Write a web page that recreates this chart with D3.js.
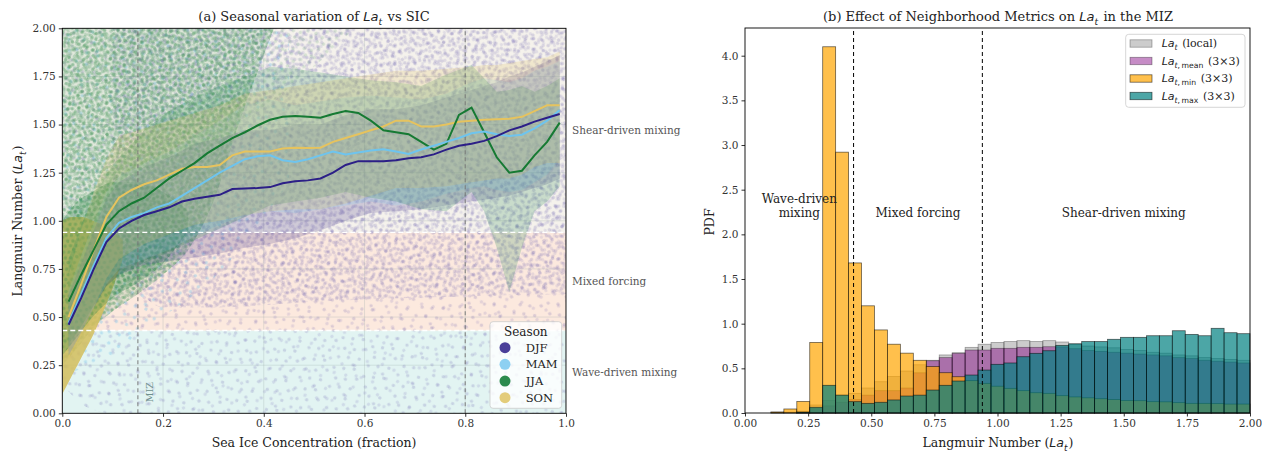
<!DOCTYPE html>
<html>
<head>
<meta charset="utf-8">
<script src="https://cdn.jsdelivr.net/npm/d3@7"></script>
<style>
body { margin: 0; background: #fff; }
svg text { font-family: "DejaVu Serif", serif; fill: #222; }
.math { font-family: "DejaVu Sans", sans-serif; font-style: italic; }
.mrm { font-family: "DejaVu Sans", sans-serif; font-style: normal; }
</style>
</head>
<body>
<svg id="chart" width="1262" height="453"></svg>
<script>
// ---------------- panel (a) data ----------------
const seasons = ['DJF', 'MAM', 'JJA', 'SON']
const sicCenters = d3.range(40).map(i => 0.0125 + 0.025 * i)

const djfMean = [0.46,0.60,0.75,0.89,0.96,1.00,1.03,1.05,1.07,1.10, 1.115,1.125,1.135,1.165,1.168,1.17,1.175,1.195,1.205,1.21,
                 1.22,1.25,1.29,1.31,1.31,1.31,1.315,1.325,1.33,1.345, 1.37,1.39,1.40,1.415,1.44,1.47,1.49,1.515,1.535,1.555]
const mamMean = [0.47,0.62,0.77,0.91,0.99,1.02,1.04,1.07,1.09,1.13, 1.17,1.21,1.25,1.285,1.32,1.335,1.34,1.315,1.305,1.32,
                 1.34,1.36,1.345,1.355,1.365,1.372,1.36,1.347,1.37,1.39, 1.41,1.43,1.455,1.464,1.45,1.44,1.447,1.48,1.52,1.575]
const jjaMean = [0.58,0.72,0.85,0.98,1.05,1.09,1.12,1.17,1.22,1.26, 1.30,1.35,1.39,1.43,1.46,1.495,1.525,1.54,1.545,1.54,
                 1.535,1.555,1.57,1.56,1.52,1.47,1.46,1.45,1.41,1.37, 1.40,1.55,1.588,1.46,1.33,1.25,1.26,1.34,1.41,1.51]
const sonMean = [0.50,0.67,0.85,1.02,1.12,1.16,1.19,1.21,1.24,1.27, 1.28,1.28,1.29,1.34,1.36,1.36,1.36,1.375,1.38,1.378,
                 1.38,1.41,1.43,1.45,1.47,1.49,1.52,1.52,1.49,1.49, 1.50,1.515,1.52,1.525,1.527,1.53,1.54,1.57,1.60,1.60]

// spread bands (lower / upper), read on a coarser SIC grid
const bandSIC = [0.0125,0.0375,0.0625,0.0875,0.1125,0.1625,0.2125,0.2625,0.3125,0.3625,0.4125,0.4625,0.5125,
                 0.5625,0.6125,0.6625,0.7125,0.7625,0.8125,0.8375,0.8625,0.8875,0.9125,0.9375,0.9625,0.9875]
const djfLo = [0.30,0.42,0.55,0.66,0.72,0.77,0.79,0.81,0.83,0.86,0.88,0.91,0.95,1.00,1.04,1.05,1.06,1.08,1.10,1.11,1.12,1.13,1.15,1.17,1.19,1.22]
const djfHi = [0.62,0.78,0.95,1.12,1.20,1.28,1.33,1.40,1.43,1.47,1.47,1.50,1.50,1.55,1.58,1.58,1.60,1.64,1.68,1.70,1.72,1.75,1.77,1.80,1.83,1.86]
const mamLo = [0.30,0.42,0.55,0.67,0.75,0.80,0.85,0.92,0.98,1.03,1.05,1.04,1.06,1.08,1.10,1.08,1.10,1.14,1.17,1.18,1.16,1.15,1.16,1.20,1.24,1.32]
const mamHi = [0.64,0.82,0.99,1.15,1.23,1.30,1.36,1.44,1.52,1.60,1.63,1.60,1.62,1.64,1.65,1.64,1.63,1.66,1.72,1.74,1.73,1.72,1.74,1.78,1.80,1.83]
const jjaLo = [0.36,0.45,0.56,0.66,0.72,0.78,0.84,0.90,0.96,1.02,1.08,1.10,1.12,1.15,1.12,1.10,1.06,1.05,1.15,1.05,0.86,0.63,0.86,1.05,1.10,1.18]
const jjaHi = [0.80,0.98,1.12,1.24,1.33,1.47,1.57,1.64,1.70,1.75,1.80,1.79,1.77,1.75,1.73,1.72,1.70,1.76,1.81,1.74,1.67,1.68,1.70,1.67,1.70,1.74]
const sonLo = [0.28,0.40,0.55,0.70,0.80,0.88,0.93,0.98,1.00,1.03,1.05,1.06,1.06,1.09,1.13,1.17,1.17,1.18,1.20,1.21,1.22,1.22,1.24,1.28,1.30,1.30]
const sonHi = [0.72,0.95,1.15,1.32,1.44,1.48,1.52,1.56,1.60,1.66,1.68,1.70,1.72,1.74,1.76,1.78,1.78,1.79,1.80,1.81,1.81,1.82,1.83,1.84,1.85,1.88]

// where the scattered samples crowd together (envelopes)
const djfSpreadSIC = [0.0, 0.05, 0.1, 1.0]
const djfSpreadLo  = [0.15, 0.03, 0.0, 0.0]
const djfCrowdSIC  = [0.1, 0.15, 0.2, 0.3, 0.5, 0.7, 1.0]
const djfCrowdLo   = [0.9, 0.65, 0.55, 0.55, 0.58, 0.6, 0.62]
const mamSpreadSIC = [0.0, 0.1, 0.2, 0.3, 0.45]
const mamSpreadLo  = [0.2, 0.3, 0.5, 0.7, 1.2]
const jjaSpreadSIC = [0, 0.03, 0.06, 0.1, 0.15, 0.2, 0.25, 0.3, 0.35, 0.42]
const jjaSpreadLo  = [0.25, 0.34, 0.44, 0.53, 0.62, 0.72, 0.85, 1.1, 1.5, 2.0]
const jjaFadeSIC   = [0, 0.2, 0.35, 0.5, 0.58]
const jjaFadeLo    = [1.2, 1.3, 1.5, 1.8, 2.0]
const jjaCoreSIC   = [0, 0.03, 0.06, 0.1, 0.15, 0.2, 0.25]
const jjaCoreLo    = [0.3, 0.4, 0.5, 0.6, 0.68, 0.78, 0.95]
const jjaCoreHi    = [1.0, 1.1, 1.15, 1.2, 1.2, 1.15, 1.05]
const sonCoreSIC   = [0, 0.02, 0.04, 0.06, 0.08, 0.1, 0.12]
const sonCoreLo    = [0.10, 0.20, 0.30, 0.40, 0.52, 0.65, 0.80]
const sonCoreHi    = [1.00, 1.02, 1.02, 1.0, 0.98, 0.95, 0.90]

const regimeBounds = [0, 0.43, 0.94, 2.0]
const mizBounds = [0.15, 0.8]
const xTicksA = [0, 0.2, 0.4, 0.6, 0.8, 1.0]
const yTicksA = [0, 0.25, 0.5, 0.75, 1.0, 1.25, 1.5, 1.75, 2.0]

// ---------------- panel (b) data ----------------
const binCount = 39
const binEdges = d3.range(binCount + 1).map(i => i * 2 / binCount)
const histLocal = [0,0,0.005,0.01,0.02,0.09,0.14,0.20,0.22,0.28, 0.35,0.41,0.47,0.54,0.59,0.65,0.675,0.735,0.77,0.79,
                   0.80,0.81,0.80,0.81,0.795,0.77,0.75,0.74,0.73,0.71, 0.70,0.68,0.67,0.65,0.64,0.62,0.61,0.60,0.59]
const histMean  = [0,0,0,0,0.01,0.05,0.08,0.12,0.15,0.20, 0.25,0.25,0.28,0.45,0.585,0.62,0.668,0.705,0.705,0.724,
                   0.724,0.735,0.735,0.742,0.74,0.72,0.70,0.69,0.68,0.67, 0.66,0.65,0.64,0.62,0.61,0.59,0.58,0.57,0.56]
const histMin   = [0,0,0.012,0.045,0.13,0.79,4.10,2.92,1.68,1.20, 0.93,0.77,0.67,0.59,0.52,0.451,0.406,0.362,0.332,0.30,
                   0.276,0.25,0.227,0.22,0.194,0.18,0.17,0.16,0.15,0.14, 0.138,0.127,0.125,0.116,0.108,0.108,0.105,0.10,0.10]
const histMax   = [0,0,0,0,0.01,0.064,0.31,0.20,0.127,0.108, 0.12,0.146,0.19,0.20,0.257,0.31,0.358,0.425,0.481,0.545,
                   0.56,0.63,0.668,0.697,0.757,0.775,0.80,0.80,0.825,0.847, 0.847,0.865,0.865,0.921,0.88,0.865,0.948,0.899,0.888]
const xTicksB = [0, 0.25, 0.5, 0.75, 1.0, 1.25, 1.5, 1.75, 2.0]
const yTicksB = [0, 0.5, 1.0, 1.5, 2.0, 2.5, 3.0, 3.5, 4.0]

// ---------------- styles ----------------
const lineColors = { DJF: '#2c1f87', MAM: '#6ec4ee', JJA: '#167a33', SON: '#e6c35e' }
const bandColors = { DJF: '#483d8b', MAM: '#87ceeb', JJA: '#2e8b57', SON: '#e0c060' }
const markColors = { DJF: '#4a3f99', MAM: '#8dd0f2', JJA: '#2b8a4d', SON: '#e3cc7a' }
const regimeFill = ['#e2f4f2', '#fce9de', '#f5f2ec']

const svg = d3.select('#chart')
const defs = svg.append('defs')

const xA = d3.scaleLinear().domain([0, 1]).range([62.3, 566])
const yA = d3.scaleLinear().domain([0, 2]).range([413.3, 28.3])
const xB = d3.scaleLinear().domain([0, 2]).range([745, 1250])
const yB = d3.scaleLinear().domain([0, 4.31]).range([413, 28])

defs.append('clipPath').attr('id', 'clipA')
    .append('rect').attr('x', 62.3).attr('y', 28.3).attr('width', 503.7).attr('height', 385)

// speckle texture for the sample clouds (several tile sizes, tilted, so it does not look like a grid)
const dotSpots = [[0.08,0.12],[0.41,0.05],[0.77,0.18],[0.23,0.44],[0.58,0.33],[0.92,0.49],[0.12,0.74],[0.47,0.69],[0.81,0.81],[0.33,0.93]]
const dotPattern = (id, size, r, color, op, tilt) => {
    const p = defs.append('pattern').attr('id', id).attr('patternUnits', 'userSpaceOnUse')
                  .attr('width', size).attr('height', size).attr('patternTransform', `rotate(${tilt})`)
    dotSpots.forEach(([u, v]) =>
        p.append('circle').attr('cx', u * size).attr('cy', v * size).attr('r', r)
         .attr('fill', color).attr('fill-opacity', op))
}
dotPattern('pDjfS', 31, 1.7, '#5a4ea6', 0.2, 17)
dotPattern('pDjfS2', 37, 1.7, '#6a5fb3', 0.17, -38)
dotPattern('pDjfD', 23, 1.8, '#5a4ea6', 0.2, 52)
dotPattern('pDjfD2', 29, 1.7, '#5a4ea6', 0.17, -11)
dotPattern('pDjfD3', 19, 1.7, '#6d62b5', 0.15, 71)
dotPattern('pMam', 33, 1.7, '#7fc6ec', 0.4, 29)
dotPattern('pJja', 17, 1.8, '#2f8a4c', 0.28, 8)
dotPattern('pJja2', 21, 1.8, '#4f9a62', 0.26, -31)
dotPattern('pJja3', 13, 1.7, '#3a8f55', 0.24, 44)

// helper: text with italic La and a subscript (italic t, upright rest)
const mathText = (sel, parts, size) => {
    parts.forEach(p => {
        if (p.la) {
            sel.append('tspan').attr('class', 'math').text('La')
            sel.append('tspan').attr('class', 'math').attr('font-size', size * 0.7).attr('dy', size * 0.3).text(p.la)
            if (p.rm) sel.append('tspan').attr('class', 'mrm').attr('font-size', size * 0.7).text(p.rm)
            sel.append('tspan').attr('dy', -size * 0.3).text('\u200a')
        } else {
            sel.append('tspan').text(p.t)
        }
    })
}

// ================= panel (a) =================
const gA = svg.append('g')
const plotA = gA.append('g').attr('clip-path', 'url(#clipA)')

// regime shading
regimeFill.forEach((c, i) => {
    plotA.append('rect').attr('x', xA(0)).attr('width', xA(1) - xA(0))
         .attr('y', yA(regimeBounds[i + 1])).attr('height', yA(regimeBounds[i]) - yA(regimeBounds[i + 1]))
         .attr('fill', c)
})

// grid
xTicksA.forEach(t => plotA.append('line').attr('x1', xA(t)).attr('x2', xA(t)).attr('y1', yA(0)).attr('y2', yA(2))
                         .attr('stroke', '#9aa8a8').attr('stroke-opacity', 0.35).attr('stroke-width', 0.8))
yTicksA.forEach(t => plotA.append('line').attr('x1', xA(0)).attr('x2', xA(1)).attr('y1', yA(t)).attr('y2', yA(t))
                         .attr('stroke', '#9aa8a8').attr('stroke-opacity', 0.35).attr('stroke-width', 0.8))

// sample clouds
const cloud = (sic, lo, hi) => d3.area().curve(d3.curveMonotoneX)
    .x((d, i) => xA(sic[i])).y0((d, i) => yA(lo[i])).y1((d, i) => yA(hi ? hi[i] : 2.0))(sic)
const paint = (d, fill, op) => plotA.append('path').attr('d', d).attr('fill', fill).attr('fill-opacity', op == null ? 1 : op)
paint(cloud(djfSpreadSIC, djfSpreadLo), 'url(#pDjfS)')
paint(cloud(djfSpreadSIC, djfSpreadLo), 'url(#pDjfS2)')
paint(cloud(mamSpreadSIC, mamSpreadLo), 'url(#pMam)')
paint(cloud(djfCrowdSIC, djfCrowdLo), 'url(#pDjfD)')
paint(cloud(djfCrowdSIC, djfCrowdLo), 'url(#pDjfD2)')
paint(cloud(djfCrowdSIC, djfCrowdLo), 'url(#pDjfD3)')
paint(cloud(jjaFadeSIC, jjaFadeLo), 'url(#pJja2)', 0.7)
paint(cloud(jjaSpreadSIC, jjaSpreadLo), '#3d8f55', 0.1)
paint(cloud(jjaSpreadSIC, jjaSpreadLo), 'url(#pJja)')
paint(cloud(jjaSpreadSIC, jjaSpreadLo), 'url(#pJja2)')
paint(cloud(jjaSpreadSIC, jjaSpreadLo), 'url(#pJja3)')
paint(cloud(sonCoreSIC, sonCoreLo, sonCoreHi), '#d2bd5c', 0.85)
paint(cloud(jjaCoreSIC, jjaCoreLo, jjaCoreHi), '#2f8a4c', 0.28)
paint(cloud(jjaCoreSIC, jjaCoreLo, jjaCoreHi), 'url(#pJja)')

// spread bands
const bandLo = { DJF: djfLo, MAM: mamLo, JJA: jjaLo, SON: sonLo }
const bandHi = { DJF: djfHi, MAM: mamHi, JJA: jjaHi, SON: sonHi }
seasons.forEach(s => {
    const area = d3.area().x((d, i) => xA(bandSIC[i])).y0((d, i) => yA(bandLo[s][i])).y1((d, i) => yA(bandHi[s][i]))
    plotA.append('path').attr('d', area(bandSIC)).attr('fill', bandColors[s]).attr('fill-opacity', 0.22)
})

// regime thresholds and MIZ limits
regimeBounds.slice(1, 3).forEach(v =>
    plotA.append('line').attr('x1', xA(0)).attr('x2', xA(1)).attr('y1', yA(v)).attr('y2', yA(v))
         .attr('stroke', '#fff').attr('stroke-width', 1.4).attr('stroke-dasharray', '5,3'))
mizBounds.forEach(v =>
    plotA.append('line').attr('x1', xA(v)).attr('x2', xA(v)).attr('y1', yA(0)).attr('y2', yA(2))
         .attr('stroke', '#777').attr('stroke-opacity', 0.75).attr('stroke-width', 1.3).attr('stroke-dasharray', '4,3'))

// seasonal mean lines
const means = { DJF: djfMean, MAM: mamMean, JJA: jjaMean, SON: sonMean }
const line = d3.line().x((d, i) => xA(sicCenters[i])).y(d => yA(d))
;['SON', 'JJA', 'MAM', 'DJF'].forEach(s => {
    plotA.append('path').attr('d', line(means[s])).attr('fill', 'none')
         .attr('stroke', lineColors[s]).attr('stroke-width', 2)
})

gA.append('text').attr('transform', `translate(${xA(0.15) + 15},${yA(0.11)}) rotate(-90)`)
  .attr('text-anchor', 'middle').attr('font-size', 9.5).style('fill', '#6f8f8c').text('MIZ')

// axes
gA.append('g').attr('transform', `translate(0,${yA(0)})`)
  .call(d3.axisBottom(xA).tickValues(xTicksA).tickFormat(d3.format('.1f')).tickSize(3.5).tickSizeOuter(0))
gA.append('g').attr('transform', `translate(${xA(0)},0)`)
  .call(d3.axisLeft(yA).tickValues(yTicksA).tickFormat(d3.format('.2f')).tickSize(3.5).tickSizeOuter(0))
gA.append('rect').attr('x', xA(0)).attr('y', yA(2)).attr('width', xA(1) - xA(0)).attr('height', yA(0) - yA(2))
  .attr('fill', 'none').attr('stroke', '#000').attr('stroke-width', 0.9)

// regime names on the right
const regimeNames = ['Wave-driven mixing', 'Mixed forcing', 'Shear-driven mixing']
regimeNames.forEach((n, i) =>
    gA.append('text').attr('x', 572).attr('y', yA((regimeBounds[i] + regimeBounds[i + 1]) / 2)).attr('dy', '0.35em')
      .attr('font-size', 10.5).style('fill', '#555').text(n))

// titles
mathText(gA.append('text').attr('x', 314).attr('y', 21).attr('text-anchor', 'middle').attr('font-size', 13),
         [{ t: '(a) Seasonal variation of ' }, { la: 't' }, { t: ' vs SIC' }], 13)
gA.append('text').attr('x', 314).attr('y', 447).attr('text-anchor', 'middle').attr('font-size', 12.5)
  .text('Sea Ice Concentration (fraction)')
mathText(gA.append('text').attr('transform', 'translate(22,221) rotate(-90)').attr('text-anchor', 'middle').attr('font-size', 12.5),
         [{ t: 'Langmuir Number (' }, { la: 't' }, { t: ')' }], 12.5)

// legend
const legA = gA.append('g')
legA.append('rect').attr('x', 490).attr('y', 321.7).attr('width', 71.7).attr('height', 86.6).attr('rx', 3)
    .attr('fill', '#fff').attr('fill-opacity', 0.8).attr('stroke', '#ccc').attr('stroke-width', 0.8)
legA.append('text').attr('x', 525.8).attr('y', 336).attr('text-anchor', 'middle').attr('font-size', 12).text('Season')
seasons.forEach((s, i) => {
    const yy = 347.7 + 16.67 * i
    legA.append('circle').attr('cx', 505).attr('cy', yy).attr('r', 5.5).attr('fill', markColors[s])
    legA.append('text').attr('x', 525.7).attr('y', yy).attr('dy', '0.35em').attr('font-size', 11.5).text(s)
})

// ================= panel (b) =================
const gB = svg.append('g')
const histSeries = [
    { vals: histLocal, color: '#808080', alpha: 0.4, rm: '', tail: ' (local)' },
    { vals: histMean,  color: '#800080', alpha: 0.45, rm: ',\u2009mean', tail: ' (3\u00d73)' },
    { vals: histMin,   color: '#ffa500', alpha: 0.7, rm: ',\u2009min', tail: ' (3\u00d73)' },
    { vals: histMax,   color: '#008080', alpha: 0.7, rm: ',\u2009max', tail: ' (3\u00d73)' }
]
histSeries.forEach(sr => {
    gB.append('g').selectAll('rect')
      .data(sr.vals.map((v, k) => ({ v, k })).filter(d => d.v > 0))
      .join('rect')
      .attr('x', d => xB(binEdges[d.k]))
      .attr('width', d => xB(binEdges[d.k + 1]) - xB(binEdges[d.k]))
      .attr('y', d => yB(d.v))
      .attr('height', d => yB(0) - yB(d.v))
      .attr('fill', sr.color).attr('fill-opacity', sr.alpha)
      .attr('stroke', '#000').attr('stroke-opacity', sr.alpha * 0.85).attr('stroke-width', 0.8)
})

regimeBounds.slice(1, 3).forEach(v =>
    gB.append('line').attr('x1', xB(v)).attr('x2', xB(v)).attr('y1', yB(0)).attr('y2', yB(4.31))
      .attr('stroke', '#000').attr('stroke-width', 1).attr('stroke-dasharray', '4,3'))

gB.append('g').attr('transform', `translate(0,${yB(0)})`)
  .call(d3.axisBottom(xB).tickValues(xTicksB).tickFormat(d3.format('.2f')).tickSize(3.5).tickSizeOuter(0))
gB.append('g').attr('transform', `translate(${xB(0)},0)`)
  .call(d3.axisLeft(yB).tickValues(yTicksB).tickFormat(d3.format('.1f')).tickSize(3.5).tickSizeOuter(0))
gB.append('rect').attr('x', xB(0)).attr('y', yB(4.31)).attr('width', xB(2) - xB(0)).attr('height', yB(0) - yB(4.31))
  .attr('fill', 'none').attr('stroke', '#000').attr('stroke-width', 0.9)

// regime names
const lblY = yB(2.19)
gB.append('text').attr('x', xB(0.215)).attr('y', lblY - 14).attr('text-anchor', 'middle').attr('font-size', 12).text('Wave-driven')
gB.append('text').attr('x', xB(0.215)).attr('y', lblY).attr('text-anchor', 'middle').attr('font-size', 12).text('mixing')
gB.append('text').attr('x', xB(0.685)).attr('y', lblY).attr('text-anchor', 'middle').attr('font-size', 12).text('Mixed forcing')
gB.append('text').attr('x', xB(1.5)).attr('y', lblY).attr('text-anchor', 'middle').attr('font-size', 12).text('Shear-driven mixing')

mathText(gB.append('text').attr('x', 998).attr('y', 21).attr('text-anchor', 'middle').attr('font-size', 13),
         [{ t: '(b) Effect of Neighborhood Metrics on ' }, { la: 't' }, { t: ' in the MIZ' }], 13)
mathText(gB.append('text').attr('x', 998).attr('y', 447).attr('text-anchor', 'middle').attr('font-size', 12.5),
         [{ t: 'Langmuir Number (' }, { la: 't' }, { t: ')' }], 12.5)
gB.append('text').attr('transform', 'translate(714,222) rotate(-90)').attr('text-anchor', 'middle').attr('font-size', 12.5).text('PDF')

// legend
const legB = gB.append('g')
legB.append('rect').attr('x', 1125.7).attr('y', 34.3).attr('width', 119.3).attr('height', 73).attr('rx', 3)
    .attr('fill', '#fff').attr('fill-opacity', 0.8).attr('stroke', '#ccc').attr('stroke-width', 0.8)
histSeries.forEach((sr, i) => {
    const yy = 43.5 + 17.5 * i
    legB.append('rect').attr('x', 1130).attr('y', yy - 3.7).attr('width', 22).attr('height', 7.4)
        .attr('fill', sr.color).attr('fill-opacity', sr.alpha)
        .attr('stroke', '#000').attr('stroke-opacity', sr.alpha * 0.85).attr('stroke-width', 0.8)
    const tx = legB.append('text').attr('x', 1161.7).attr('y', yy + 3.5).attr('font-size', 11)
    mathText(tx, [{ la: 't', rm: sr.rm }, { t: sr.tail }], 11)
})

// axis styling
svg.selectAll('.tick text').attr('font-size', 10.5).style('font-family', '"DejaVu Serif", serif').style('fill', '#333')
svg.selectAll('.tick line').attr('stroke', '#333')
svg.selectAll('.domain').remove()
</script>
</body>
</html>
